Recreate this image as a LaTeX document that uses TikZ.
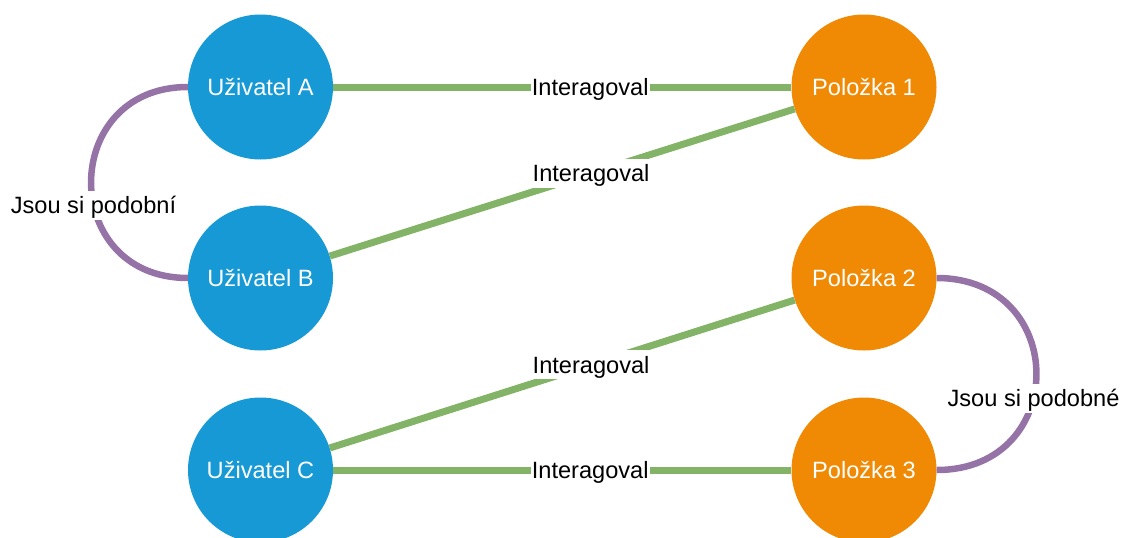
\documentclass[tikz,border=0pt]{standalone}
\usepackage{fontspec}
\setmainfont{Liberation Sans}
\definecolor{userblue}{HTML}{1799D5}
\definecolor{itemorange}{HTML}{F08A05}
\definecolor{edgegreen}{HTML}{82B366}
\definecolor{simpurple}{HTML}{9673A6}
\begin{document}
\begin{tikzpicture}[x=1pt,y=-1pt,
  every node/.style={font=\fontsize{23.6}{28}\selectfont},
  user/.style={circle,fill=userblue,text=white,minimum size=145pt,inner sep=0pt},
  item/.style={circle,fill=itemorange,text=white,minimum size=145pt,inner sep=0pt},
  interact/.style={draw=edgegreen,line width=7pt},
  similar/.style={draw=simpurple,line width=6.5pt},
  lbl/.style={fill=white,text=black,inner xsep=1pt,inner ysep=0pt,text height=23pt,text depth=6pt}]
\useasboundingbox (0,0) rectangle (1122,538);
% users on the left, items on the right
\node[user] (ua) at (260.5,87) {Uživatel A};
\node[user] (ub) at (260.5,278) {Uživatel B};
\node[user] (uc) at (260.5,470) {Uživatel C};
\node[item] (p1) at (864,87) {Položka 1};
\node[item] (p2) at (864,278) {Položka 2};
\node[item] (p3) at (864,470) {Položka 3};
% interactions
\draw[interact] (ua) -- node[lbl,pos=0.561] (l1) {Interagoval} (p1);
\draw[interact] (ub) -- node[lbl,pos=0.562] (l2) {Interagoval} (p1);
\draw[interact] (uc) -- node[lbl,pos=0.562] (l3) {Interagoval} (p2);
\draw[interact] (uc) -- node[lbl,pos=0.561] (l4) {Interagoval} (p3);
% similarity links
\draw[similar] (ua.west) .. controls +(-129,0) and +(-129,0) .. node[lbl,pos=0.58] (s1) {Jsou si podobní} (ub.west);
\draw[similar] (p2.east) .. controls +(133,0) and +(133,0) .. node[lbl,pos=0.585] (s2) {Jsou si podobné} (p3.east);
\end{tikzpicture}
\end{document}
